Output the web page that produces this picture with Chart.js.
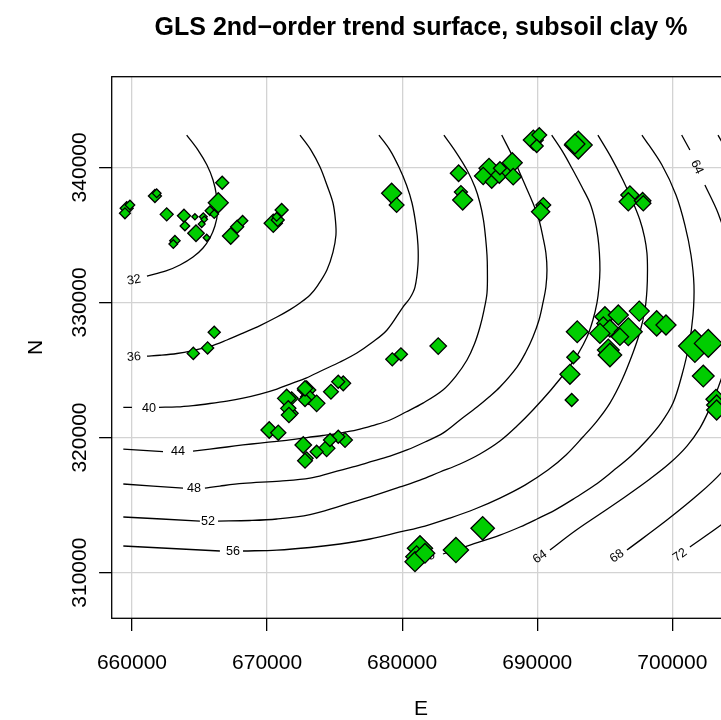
<!DOCTYPE html>
<html>
<head>
<meta charset="utf-8">
<script src="https://cdn.jsdelivr.net/npm/chart.js@4.4.1/dist/chart.umd.min.js"></script>
<style>
  html, body { margin: 0; padding: 0; background: #fff; overflow: hidden; }
  canvas { display: block; }
</style>
</head>
<body>
<canvas id="trend" width="760" height="720"></canvas>
<script>
// sample sites: easting, northing, subsoil clay %
const eastings = [666680, 666390, 665770, 666090, 665280, 664660, 663850, 662570, 661700, 661830, 659610, 659850, 659480, 663920, 665160, 665350, 664740, 665530, 663180, 663060, 667310, 667790, 668190, 670460, 670790, 671080, 670710,
  679220, 679590, 684180, 684350, 684480, 686430, 686000, 686630, 687190, 687740, 688150, 688220, 687240,
  689710, 690150, 689960, 693040, 692790, 690450, 690250, 696860, 696740, 697800, 697850,
  692960, 692670, 692420, 692550, 695010, 696000, 694890, 695380, 694640, 696740, 696120, 695260, 695380, 697550, 698840, 699530, 701670, 702660, 702290, 703230, 703280, 703280,
  682670, 679910, 679270, 675640, 675270, 674730, 672930, 673050, 673670, 672810, 671820, 671820, 672680, 674410, 675770, 675270, 674660, 673670, 672930,
  670160, 670830, 671450, 671570, 671620, 672810, 672810,
  681320, 681070, 680950, 681690, 683980, 685960,
  664540, 665600, 666090];
const northings = [338860, 337380, 336790, 336540, 336340, 336340, 336420, 336520, 337880, 338080, 336970, 337210, 336600, 335660, 335800, 336150, 335120, 334790, 334570, 334320, 334920, 335600, 336050, 335860, 336100, 336840, 336340,
  338080, 337210, 339560, 338170, 337580, 339930, 339360, 338930, 339430, 339800, 340340, 339310, 339930,
  342020, 342390, 341580, 341650, 341730, 337210, 336710, 337950, 337450, 337530, 337340,
  327830, 325940, 324680, 322780, 328940, 329070, 328450, 328080, 327710, 327830, 327460, 326480, 326110, 329360, 328450, 328330, 326770, 326970, 324550, 322830, 322410, 322040,
  326770, 326160, 325790, 324010, 324130, 323390, 323520, 323020, 322530, 322780, 322900, 321790, 319450, 319200, 319820, 320060, 319820, 318950, 318460,
  320560, 320360, 322900, 322160, 321670, 318280, 323640,
  311800, 311180, 310810, 311430, 311670, 313280,
  326230, 326630, 327790];
const clay = [30, 46, 22, 20, 18, 14, 30, 30, 30, 20, 30, 22, 25, 22, 16, 15, 38, 16, 24, 20, 38, 30, 24, 42, 30, 30, 20,
  46, 34, 38, 30, 46, 46, 40, 30, 38, 35, 46, 38, 30,
  46, 34, 30, 64, 46, 34, 42, 42, 42, 38, 35,
  50, 30, 46, 30, 46, 46, 30, 40, 46, 64, 40, 50, 54, 46, 58, 46, 75, 64, 50, 46, 46, 46,
  38, 30, 30, 34, 30, 34, 42, 35, 38, 30, 30, 30, 38, 38, 34, 30, 30, 30, 30,
  38, 35, 42, 35, 35, 34, 35,
  58, 50, 46, 45, 58, 54,
  28, 28, 28];

// contour lines of the trend surface, [easting, northing] per vertex, split where labels sit
const contour32 = [[[664050,342390],[664890,341280],[665550,340170],[666000,339060],[666260,337880],[666330,336620],[666140,335660],[665770,334770],[665260,334030],[664520,333360],[663550,332770],[662520,332330],[661110,331950]]];
const contour36 = [[[672440,342390],[673250,341280],[673920,340020],[674430,338690],[674880,337360],[675060,336100],[675100,334990],[674880,333730],[674430,332400],[673770,331290],[673180,330550],[672440,329960],[671700,329470],[670730,328920],[669480,328290],[668220,327730],[667030,327220],[665770,326740],[664520,326440],[663330,326220],[662070,326090],[661110,326030]]];
const contour40 = [
  [[678280,342390],[679100,341280],[679760,340020],[680320,338690],[680730,337360],[681020,335730],[681170,334250],[681170,332770],[680950,331140],[680580,330330],[680060,329660],[678880,327960],[677770,327030],[676650,326260],[675400,325590],[674140,325000],[672880,324400],[671700,323960],[670730,323590],[669480,323220],[668220,322920],[667030,322700],[665770,322520],[664520,322370],[663330,322270],[662000,322240]],
  [[660000,322240],[659360,322240]]];
const contour44 = [
  [[683090,342390],[683980,341130],[684800,339800],[685390,338540],[685760,337360],[686020,336100],[686170,334840],[686280,333510],[686310,332400],[686280,330700],[686060,329440],[685760,328180],[685350,326920],[684800,325740],[683980,324550],[683020,323520],[681540,322550],[680280,321890],[679100,321300],[677840,320890],[676650,320560],[675400,320330],[674140,320150],[672950,320000],[671700,319820],[670730,319720],[669480,319590],[668220,319450],[667030,319300],[665770,319150],[664520,319000]],
  [[662300,318960],[659360,319150]]];
const contour48 = [
  [[687370,342390],[688200,340760],[688940,339060],[689680,337360],[690130,336100],[690420,334840],[690640,333660],[690720,332400],[690640,331140],[690420,329960],[690130,328700],[689680,327440],[689160,326330],[688500,325220],[687240,323740],[686430,323000],[685540,322260],[684280,321300],[683020,320330],[681690,319670],[680360,319080],[679100,318630],[677620,318190],[676360,317820],[674660,317370],[673180,317000],[670960,316780],[668220,316600],[666510,316410],[665400,316260]],
  [[663780,316260],[659360,316560]]];
const contour52 = [
  [[691070,342390],[691900,341130],[692640,339800],[693310,338540],[693900,337360],[694270,336100],[694490,334840],[694600,333660],[694640,332400],[694570,331140],[694420,329960],[694120,328700],[693680,327440],[693010,326180],[692200,325000],[691010,323520],[689680,322040],[688500,320850],[687240,319740],[685760,318780],[684280,318040],[682800,317450],[681320,316850],[679840,316340],[677620,315600],[675400,314930],[673180,314300],[670730,313970],[668730,313860],[666370,313820]],
  [[665030,313820],[659360,314120]]];
const contour56 = [
  [[694490,342390],[695460,340760],[696340,339060],[697010,337580],[697600,336100],[697940,334840],[698120,333660],[698160,332400],[698120,330920],[697970,329440],[697600,327810],[697080,326260],[696270,324260],[695380,322550],[694420,321220],[693380,320040],[692130,318710],[690790,317590],[689090,316480],[687240,315520],[685390,314710],[683540,314040],[681690,313450],[679840,313010],[677620,312490],[675400,312120],[673180,311860],[670730,311670],[668220,311600]],
  [[666510,311600],[659360,311970]]];
const contour60 = [[[697750,342390],[699230,340170],[700270,337950],[700930,335730],[701380,333510],[701600,331290],[701530,329070],[701230,326850],[700710,324630],[700050,322550],[699160,321070],[698120,319820],[696940,318630],[695600,317520],[694270,316480],[692790,315520],[691310,314630],[689980,313970],[688720,313380],[687240,312780],[685020,312040],[683020,311380]]];
const contour64 = [
  [[690940,311670],[692790,313080],[694640,314340],[696490,315600],[698340,316930],[699820,318110],[701080,319370],[702040,320700],[702780,322180],[703380,323660],[703970,325370],[704630,327590]],
  [[700690,342390],[701300,341280]],
  [[702410,338690],[703380,336620],[704260,334030],[705000,330920]]];
const contour68 = [
  [[696640,311670],[699600,313890],[702040,315890],[703600,317370],[705370,319450]],
  [[703380,342390],[704860,339800]]];
const contour72 = [[[701300,311900],[703600,313520],[705370,314900]]];

// label text, easting, northing, angle in degrees
const contourLabels = [
  ['32', 660150, 331660, -10], ['36', 660150, 325960, -5], ['40', 661260, 322180, 0],
  ['44', 663410, 318930, 0], ['48', 664590, 316190, 0], ['52', 665630, 313820, 0],
  ['56', 667480, 311530, 0], ['60', 681910, 311160, -17], ['64', 690200, 311160, -35],
  ['68', 695900, 311230, -35], ['72', 700560, 311300, -35], ['64', 701820, 340020, 65]
];

const xTicks = [660000, 670000, 680000, 690000, 700000];
const yTicks = [310000, 320000, 330000, 340000];

Chart.defaults.font.family = '"Liberation Sans", Arial, Helvetica, sans-serif';
Chart.defaults.color = '#000';

const levels = [contour32, contour36, contour40, contour44, contour48, contour52, contour56, contour60, contour64, contour68, contour72];
const lineSets = [];
levels.forEach(segs => segs.forEach(seg => lineSets.push({
  data: seg.map(([e, n]) => ({x: e, y: n})),
  showLine: true,
  pointRadius: 0,
  borderColor: '#000',
  borderWidth: 1.3,
  tension: 0.35,
  order: 1
})));

const sites = {
  data: eastings.map((e, i) => ({x: e, y: northings[i]})),
  pointStyle: 'rectRot',
  pointRadius: clay.map(c => c / 4.6),
  backgroundColor: '#00CD00',
  borderColor: '#000',
  borderWidth: 1.3,
  order: 0
};

// full box round the plot region
const plotBox = {
  id: 'plotBox',
  beforeDatasetsDraw(chart) {
    const {ctx, chartArea: a} = chart;
    ctx.save();
    ctx.strokeStyle = '#000';
    ctx.lineWidth = 1.3;
    ctx.strokeRect(a.left, a.top, a.right - a.left, a.bottom - a.top);
    ctx.restore();
  }
};

const labelContours = {
  id: 'labelContours',
  beforeDatasetsDraw(chart) {
    const {ctx, scales: {x, y}} = chart;
    ctx.save();
    ctx.font = '12.6px "Liberation Sans", Arial, sans-serif';
    ctx.fillStyle = '#000';
    ctx.textAlign = 'center';
    ctx.textBaseline = 'middle';
    contourLabels.forEach(([t, e, n, ang]) => {
      ctx.save();
      ctx.translate(x.getPixelForValue(e), y.getPixelForValue(n));
      ctx.rotate(ang * Math.PI / 180);
      ctx.fillText(t, 0, 0);
      ctx.restore();
    });
    ctx.restore();
  }
};

new Chart(document.getElementById('trend'), {
  type: 'scatter',
  data: { datasets: [sites, ...lineSets] },
  options: {
    responsive: false,
    animation: false,
    devicePixelRatio: 1,
    events: [],
    layout: { padding: { left: 0, top: 0, right: 29.7, bottom: 0 } },
    plugins: {
      legend: { display: false },
      tooltip: { enabled: false },
      title: {
        display: true,
        text: 'GLS 2nd\u2212order trend surface, subsoil clay %',
        fullSize: false,
        color: '#000',
        font: { size: 25, weight: 'bold', lineHeight: 1.2 },
        padding: { top: 13, bottom: 33.7 }
      }
    },
    scales: {
      x: {
        type: 'linear',
        position: 'bottom',
        min: 658500,
        max: 704290,
        afterBuildTicks: s => { s.ticks = xTicks.map(v => ({value: v})); },
        afterFit: s => { s.height = 101.7; },
        ticks: { callback: v => String(v), font: { size: 21 }, color: '#000', padding: 19.5, maxRotation: 0, autoSkip: false },
        grid: { color: '#D3D3D3', tickColor: '#000', tickLength: 12.6, lineWidth: 1.3 },
        border: { display: false },
        title: { display: true, text: 'E', color: '#000', font: { size: 21, lineHeight: 1 }, padding: { top: 0, bottom: 0 } }
      },
      y: {
        type: 'linear',
        position: 'left',
        min: 306620,
        max: 346710,
        afterBuildTicks: s => { s.ticks = yTicks.map(v => ({value: v})); },
        afterFit: s => { s.width = 111.7; },
        ticks: { callback: v => String(v), font: { size: 21 }, color: '#000', padding: -15.9, minRotation: 90, maxRotation: 90, crossAlign: 'center', autoSkip: false },
        grid: { color: '#D3D3D3', tickColor: '#000', tickLength: 12.6, lineWidth: 1.3 },
        border: { display: false },
        title: { display: true, text: 'N', color: '#000', font: { size: 21, lineHeight: 1 }, padding: { top: 25.5, bottom: 0 } }
      }
    }
  },
  plugins: [plotBox, labelContours]
});
</script>
</body>
</html>
